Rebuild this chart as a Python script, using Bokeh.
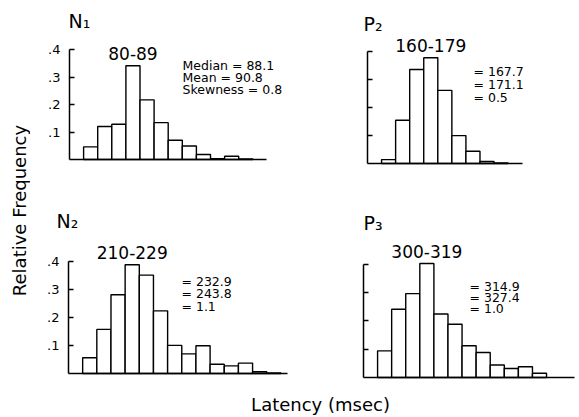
import numpy as np
from bokeh.plotting import figure
from bokeh.layouts import row, column
from bokeh.models import Range1d, FixedTicker, Label
from bokeh.embed import file_html
from bokeh.resources import INLINE

FONT = "DejaVu Sans"

# ---------------- data ----------------
y_ticks = [0.1, 0.2, 0.3, 0.4]
y_tick_labels = [".1", ".2", ".3", ".4"]

n1_bins = [50, 60, 70, 80, 90, 100, 110, 120, 130, 140, 150, 160]
n1_freq = [0.046, 0.120, 0.128, 0.341, 0.217, 0.134, 0.070, 0.049, 0.018, 0.003, 0.012, 0.002]
n1_stats = ["Median = 88.1", "Mean = 90.8", "Skewness = 0.8"]

p2_bins = [100, 120, 140, 160, 180, 200, 220, 240, 260]
p2_freq = [0.014, 0.155, 0.337, 0.379, 0.262, 0.100, 0.044, 0.007, 0.002]
p2_stats = ["= 167.7", "= 171.1", "= 0.5"]

n2_bins = [150, 170, 190, 210, 230, 250, 270, 290, 310, 330, 350, 370, 390, 410]
n2_freq = [0.056, 0.157, 0.280, 0.387, 0.350, 0.223, 0.100, 0.070, 0.099, 0.033, 0.027, 0.037, 0.006, 0.002]
n2_stats = ["= 232.9", "= 243.8", "= 1.1"]

p3_bins = [240, 260, 280, 300, 320, 340, 360, 380, 400, 420, 440, 460]
p3_freq = [0.094, 0.241, 0.296, 0.402, 0.224, 0.188, 0.112, 0.088, 0.044, 0.032, 0.038, 0.015]
p3_stats = ["= 314.9", "= 327.4", "= 1.0"]


def panel(title, bins, freq, bw, stats, show_labels, L):
    fl, ft, fw, fh = L["fig"]
    x0, pxx, pxy = L["x0"], L["pxx"], L["pxy"]
    page_left, page_base = L["page_left"], L["page_base"]

    def dx(px):
        return x0 + (px - page_left) / pxx

    def dy(py):
        return (page_base - py) / pxy

    p = figure(width=fw, height=fh,
               x_range=Range1d(dx(fl), dx(fl + fw)),
               y_range=Range1d(dy(ft + fh), dy(ft)),
               output_backend="svg", toolbar_location=None,
               min_border=0, outline_line_color=None,
               background_fill_color="white", border_fill_color="white")
    p.grid.visible = False

    rights = [b + bw for b in bins]
    p.quad(left=bins, right=rights, bottom=0, top=freq,
           fill_color="white", line_color="black", line_width=1.4)

    ya = p.yaxis[0]
    ya.fixed_location = x0
    ya.ticker = FixedTicker(ticks=y_ticks)
    ya.bounds = (0, 0.4)
    ya.major_tick_in = 5
    ya.major_tick_out = 0
    ya.minor_tick_line_color = None
    ya.axis_line_width = 1.5
    ya.major_tick_line_width = 1.5
    ya.major_label_standoff = 9
    ya.major_label_text_font = FONT
    ya.major_label_text_font_size = "13px"
    ya.major_label_text_color = "black"
    if show_labels:
        ya.major_label_overrides = dict(zip(y_ticks, y_tick_labels))
    else:
        ya.major_label_overrides = {t: "" for t in y_ticks}

    xa = p.xaxis[0]
    xa.fixed_location = 0
    xa.ticker = FixedTicker(ticks=[])
    xa.bounds = (x0, L["x_end"])
    xa.major_tick_in = 0
    xa.major_tick_out = 0
    xa.minor_tick_line_color = None
    xa.major_label_standoff = 0
    xa.axis_line_width = 1.5

    tx, ty = L["title"]
    p.add_layout(Label(x=dx(tx), y=dy(ty), text=title, text_font=FONT,
                       text_font_size="19px", text_color="black",
                       text_baseline="middle", text_align="left"))

    # bin label of the modal class, centred 12.5 px above the tallest bar
    i = int(np.argmax(freq))
    p.add_layout(Label(x=bins[i] + bw / 2, y=freq[i] + 12.5 / pxy,
                       text=f"{bins[i]}-{bins[i] + bw - 1}", text_font=FONT,
                       text_font_size="17px", text_color="black",
                       text_baseline="middle", text_align="center"))

    sx = L["stats_x"]
    for s, sy in zip(stats, L["stats_y"]):
        p.add_layout(Label(x=dx(sx), y=dy(sy), text=s, text_font=FONT,
                           text_font_size="12.5px", text_color="black",
                           text_baseline="middle", text_align="left"))
    return p


n1 = panel("N\u2081", n1_bins, n1_freq, 10, n1_stats, True,
           dict(fig=(30, 0, 290, 200), x0=40, x_end=180,
                pxx=1.41, pxy=275, page_left=69, page_base=159,
                title=(68, 20), stats_x=182, stats_y=[65, 77, 89]))
p2 = panel("P\u2082", p2_bins, p2_freq, 20, p2_stats, False,
           dict(fig=(320, 0, 259, 200), x0=80, x_end=300,
                pxx=0.703, pxy=279, page_left=367, page_base=163,
                title=(363, 23.5), stats_x=473, stats_y=[70.5, 83.5, 97]))
n2 = panel("N\u2082", n2_bins, n2_freq, 20, n2_stats, True,
           dict(fig=(30, 200, 290, 192), x0=130, x_end=440,
                pxx=0.708, pxy=281, page_left=68, page_base=373,
                title=(56, 220.5), stats_x=181, stats_y=[280.5, 293, 306]))
p3 = panel("P\u2083", p3_bins, p3_freq, 20, p3_stats, False,
           dict(fig=(320, 200, 259, 192), x0=220, x_end=520,
                pxx=0.704, pxy=283.5, page_left=363, page_base=377,
                title=(363, 222), stats_x=469, stats_y=[285.5, 296.5, 307.5]))


def text_fig(w, h):
    f = figure(width=w, height=h, x_range=Range1d(0, w), y_range=Range1d(0, h),
               x_axis_location=None, y_axis_location=None, min_border=0,
               outline_line_color=None, toolbar_location=None,
               output_backend="svg", background_fill_color="white",
               border_fill_color="white")
    f.grid.visible = False
    return f


yl = text_fig(30, 392)
yl.add_layout(Label(x=19, y=392 - 210, text="Relative Frequency", angle=np.pi / 2,
                    text_font=FONT, text_font_size="18px", text_color="black",
                    text_align="center", text_baseline="middle"))

xl = text_fig(579, 25)
xl.add_layout(Label(x=320, y=25 - 11.5, text="Latency (msec)", text_font=FONT,
                    text_font_size="18px", text_color="black",
                    text_align="center", text_baseline="middle"))

layout = column(row(yl, column(row(n1, p2), row(n2, p3))), xl)

open("out.html", "w").write(file_html(layout, INLINE))
